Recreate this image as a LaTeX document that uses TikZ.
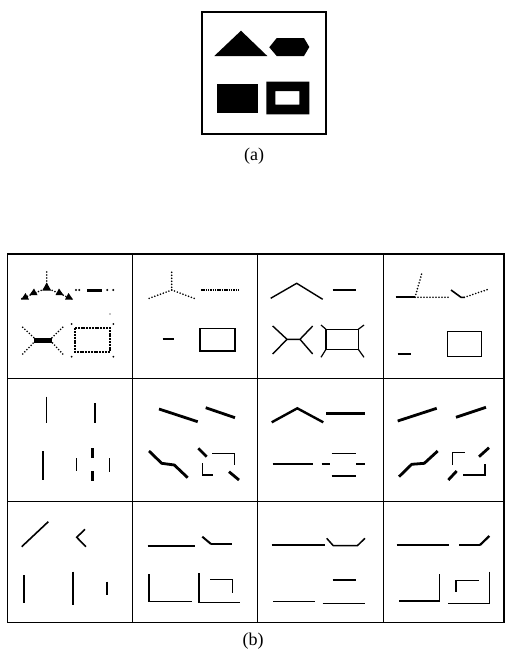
\documentclass[tikz,border=0pt]{standalone}
\usepackage{fontspec}
\setmainfont{Liberation Serif}
\begin{document}
\begin{tikzpicture}[x=1pt,y=-1pt,
  frame/.style={line width=1.6pt},
  gridln/.style={line width=1.5pt},
  thinln/.style={line width=1.2pt},
  thickln/.style={line width=2.8pt},
  fdot/.style={line width=1.8pt, line cap=round, dash pattern=on 0pt off 3pt},
  lbl/.style={font=\fontsize{18}{20}\selectfont, inner sep=0pt}]
\useasboundingbox (0,0) rectangle (506,656);
\fill[white] (0,0) rectangle (506,656);
% ---------- (a) ----------
\draw[frame] (202,12) rectangle (326,134);
\fill (214.3,56) -- (241,30.7) -- (267.3,56) -- cycle;
\fill (269.3,47.3) -- (276.7,38) -- (304,38) -- (309.3,47) -- (304,56) -- (276.7,56) -- cycle;
\fill (216.7,84) rectangle (258.3,113.3);
\fill[even odd rule] (266.3,81.7) rectangle (309.3,114.3) (275.3,91) rectangle (299.3,104.7);
\node[lbl] (la) at (254,156) {(a)};
% ---------- grid (b) ----------
\draw[gridln] (7.3,254) rectangle (504,622.7);
\foreach \xx in {132.3,257.3,383.3} \draw[gridln] (\xx,254) -- (\xx,622.7);
\foreach \yy in {378.3,501.7} \draw[gridln] (7.3,\yy) -- (504,\yy);
\node[lbl] (lb) at (253,641) {(b)};
% ---- cell 1,1 ----
\draw[fdot] (46.7,272) -- (46.7,284);
\draw[fdot] (46.7,288) -- (21,299);
\draw[fdot] (46.7,288) -- (72,299);
\fill (42.3,290.5) -- (46.7,282.5) -- (51.1,290.5) -- cycle;
\fill (29.5,295) -- (34,288.5) -- (37.5,295) -- cycle;
\fill (21.2,299.5) -- (25.5,293) -- (29,299.5) -- cycle;
\fill (55.5,295) -- (59,288.5) -- (63.5,295) -- cycle;
\fill (65,299.5) -- (68.5,293) -- (73,299.5) -- cycle;
\fill (76,290) circle (1.1) (79.3,290) circle (1.1) (107.3,290) circle (1.1) (113.3,290) circle (1.1);
\draw[line width=3pt] (87.3,290) -- (101.7,290);
\draw[line width=5pt] (34.3,340) -- (51.7,340);
\draw[fdot] (22.7,327.3) -- (34.3,338);
\draw[fdot] (22.7,354) -- (34.3,342);
\draw[fdot] (62.7,327.3) -- (51.7,338);
\draw[fdot] (62.7,354) -- (51.7,342);
\draw[line width=2.2pt, dash pattern=on 2pt off 0.8pt] (75,328.3) rectangle (110,351.7);
\fill (71.7,324) circle (1) (113.3,324) circle (1) (71.7,356.7) circle (1) (113.3,356.7) circle (1) (110,314) circle (0.6);
% ---- cell 1,2 ----
\draw[fdot] (171.7,272.3) -- (171.7,290);
\draw[fdot] (171.7,290) -- (146.7,299.3);
\draw[fdot] (171.7,290) -- (196.7,299.3);
\draw[line width=2.4pt, dash pattern=on 1.5pt off 0.8pt] (201,290) -- (240,290);
\draw[line width=2pt] (162.7,339.3) -- (174.3,339.3);
\draw[line width=1.5pt] (200,328.3) rectangle (235,351);
% ---- cell 1,3 ----
\draw[line width=1.4pt] (270.7,298.3) -- (296.7,283.3) -- (322.7,299.3);
\draw[line width=2.4pt] (332.7,290) -- (356,290);
\draw[line width=1.4pt] (272.7,326) -- (287,339.3) -- (300,339.3) -- (312.7,326);
\draw[line width=1.4pt] (272.7,354) -- (287,339.3);
\draw[line width=1.4pt] (300,339.3) -- (312.7,354);
\draw[line width=1.6pt] (326,329.3) rectangle (358.3,349.3);
\draw[line width=1.2pt] (321,325) -- (326,329.3) (364,325) -- (358.3,329.3) (321,357.3) -- (326,349.3) (364,357.3) -- (358.3,349.3);
% ---- cell 1,4 ----
\draw[line width=2.2pt] (395.7,297.3) -- (415,297.3);
\draw[fdot] (415,297.3) -- (422.3,271.7);
\draw[fdot] (415,297.3) -- (449,297.3);
\draw[line width=1.6pt] (451,290) -- (461,297.3) -- (464.3,297.3);
\draw[fdot] (464.3,297.3) -- (488.3,289.3);
\draw[line width=1.8pt] (397.7,354) -- (411,354);
\draw[line width=1.5pt] (447.7,331.7) rectangle (481.7,356.7);
% ---- cell 2,1 ----
\draw[line width=1.5pt] (46.7,396.7) -- (46.7,423.3);
\draw[line width=2.6pt] (95,403.3) -- (95,423.3);
\draw[line width=1.7pt] (42.7,451) -- (42.7,480);
\draw[line width=1.5pt] (76.7,458.3) -- (76.7,471);
\draw[line width=2.6pt] (92.7,448.3) -- (92.7,457.7) (92.7,471) -- (92.7,481);
\draw[line width=1.5pt] (109.3,458.3) -- (109.3,471.7);
% ---- cell 2,2 ----
\draw[thickln] (159,409) -- (197.7,421.7);
\draw[thickln] (205.7,407.7) -- (235,417.7);
\draw[thickln, line join=round] (149,451) -- (161.7,463.3) -- (174.3,465) -- (187.7,477.7);
\draw[thickln] (198.3,448.3) -- (206.7,456.7);
\draw[thinln] (212.3,453.3) -- (234.3,453.3) -- (234.3,465);
\draw[thinln] (202.3,463.3) -- (202.3,475) -- (213.3,475);
\draw[thickln] (229,471.7) -- (239,480);
% ---- cell 2,3 ----
\draw[line width=2.4pt] (271.7,422.3) -- (297.3,408.3) -- (323.3,422.3);
\draw[line width=3.4pt] (326,413.3) -- (365,413.3);
\draw[line width=1.6pt] (272.7,464) -- (313.3,464);
\draw[line width=1.6pt] (321.7,464) -- (330,464);
\draw[line width=1.6pt] (356,464) -- (365,464);
\draw[line width=1.6pt] (331.7,453.3) -- (356,453.3);
\draw[line width=1.6pt] (331.7,476) -- (356,476);
% ---- cell 2,4 ----
\draw[thickln] (397.7,421) -- (436.7,408.3);
\draw[thickln] (456,417.3) -- (486,407.3);
\draw[thickln, line join=round] (399,476.7) -- (411.7,464.3) -- (424.3,463.3) -- (437.7,451);
\draw[thinln] (452.3,465) -- (452.3,452.3) -- (465,452.3);
\draw[thickln] (479,456.7) -- (489,447.7);
\draw[thickln] (448.3,480) -- (456.7,471);
\draw[thinln] (463.3,475) -- (485,475) -- (485,464.3);
% ---- cell 3,1 ----
\draw[line width=1.6pt] (21.7,546.7) -- (48.3,521.7);
\draw[line width=1.6pt] (85,529.3) -- (76.7,537.3) -- (86,546.7);
\draw[line width=1.6pt] (24,575) -- (24,603.3);
\draw[line width=1.8pt] (73.3,571.7) -- (73.3,605);
\draw[line width=1.8pt] (106.7,581.7) -- (106.7,595);
% ---- cell 3,2 ----
\draw[line width=1.5pt] (147.7,546) -- (195,546);
\draw[line width=2pt] (202.3,536.7) -- (211,544);
\draw[line width=1.5pt] (211,544) -- (232.3,544);
\draw[line width=1.5pt] (149,574) -- (149,601.7) -- (191.7,601.7);
\draw[line width=1.5pt] (199,573.3) -- (199,602.7) -- (240,602.7);
\draw[line width=1.5pt] (210,579.3) -- (232.3,579.3) -- (232.3,592.7);
% ---- cell 3,3 ----
\draw[line width=1.5pt] (271.7,545) -- (325,545);
\draw[line width=1.5pt] (326.7,538.3) -- (333.3,545.7) -- (357.3,545.7) -- (365,538.3);
\draw[line width=1.8pt] (332.7,580) -- (356,580);
\draw[line width=1.5pt] (273.3,601.7) -- (315,601.7);
\draw[line width=1.5pt] (322.7,603.3) -- (365,603.3);
% ---- cell 3,4 ----
\draw[line width=1.5pt] (396.7,545) -- (449.3,545);
\draw[line width=1.5pt] (459.3,545) -- (480,545);
\draw[line width=2.2pt] (480,545) -- (489.3,536);
\draw[line width=1.5pt] (399.3,601) -- (439.3,601) -- (439.3,574);
\draw[line width=1.3pt] (456,591.7) -- (456,580.7) -- (479.3,580.7);
\draw[line width=1.5pt] (489.3,571.7) -- (489.3,603.3) -- (448.3,603.3);
\end{tikzpicture}
\end{document}
